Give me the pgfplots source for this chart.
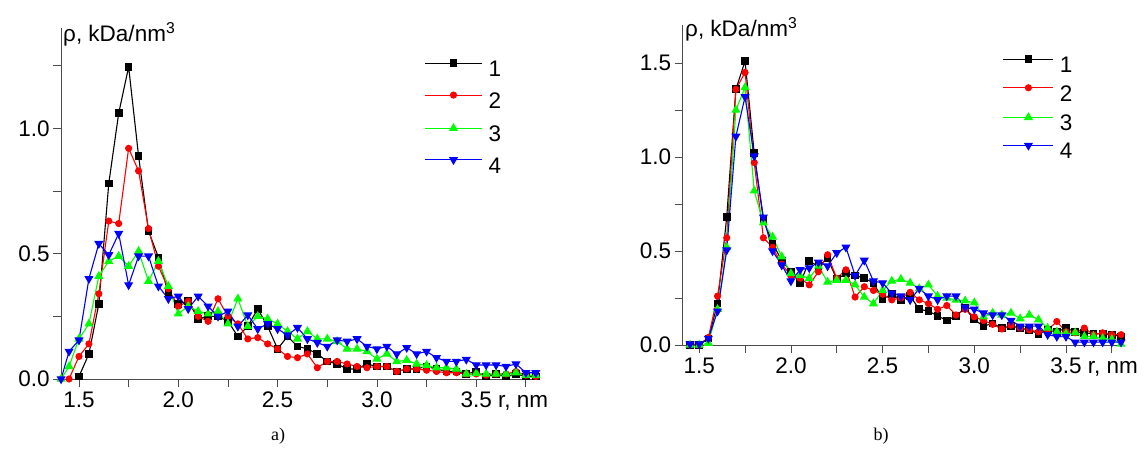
\documentclass[border=0pt]{standalone}
\usepackage{fontspec}
\setmainfont{Liberation Sans}
\newfontfamily\seriffont{Liberation Serif}
\usepackage{pgfplots}
\pgfplotsset{compat=1.18}
\newcommand{\tlf}{\fontsize{22.5bp}{26bp}\selectfont}
\pgfplotsset{
  panel/.style={
    scale only axis,
    anchor=south west,
    axis lines=left,
    axis line style={-, black!70, line width=0.8bp},
    every tick/.style={black!70, line width=0.8bp},
    tick align=outside,
    major tick length=8bp,
    minor tick length=8bp,
    xmin=1.41, xmax=3.80, ymin=0,
    xtick={1.5,2.0,2.5,3.0,3.5},
    xticklabels={1.5,2.0,2.5,3.0,3.5\rlap{ r, nm}},
    minor xtick={1.75,2.25,2.75,3.25,3.75},
    ticklabel style={font=\tlf},
    xticklabel style={yshift=-1bp},
    clip=false,
    legend cell align=left,
    legend style={draw=none, fill=none, font=\tlf, inner sep=0pt,
      nodes={inner sep=0pt, text height=16bp, text depth=0bp}},
    every axis plot/.append style={line width=1.1bp},
  },
}
\begin{document}
\begin{tikzpicture}
\path[use as bounding box] (0,0) rectangle (1145bp,468bp);
% ---------------- panel a ----------------
\begin{axis}[panel,
  at={(61.1bp,89bp)},
  width=474.7bp, height=351bp,
  ymax=1.4,
  ytick={0,0.5,1.0}, yticklabels={0.0,0.5,1.0},
  minor ytick={0.25,0.75,1.25},
  legend style={at={(0.765,0.91)}, anchor=north west, row sep=15.5bp},
  legend image code/.code={
    \draw[mark repeat=2, mark phase=2, #1] plot coordinates {(0bp,5.5bp) (28.5bp,5.5bp) (57bp,5.5bp)};
  },
  /tikz/every odd column/.append style={column sep=6bp},
]
\addplot[color=black, mark=square*, mark size=3.3bp, mark options={solid}] table {
1.50 0.01
1.55 0.10
1.60 0.30
1.65 0.78
1.70 1.06
1.75 1.245
1.80 0.89
1.85 0.59
1.90 0.485
1.95 0.34
2.00 0.30
2.05 0.31
2.10 0.24
2.15 0.25
2.20 0.25
2.25 0.23
2.30 0.17
2.35 0.21
2.40 0.28
2.45 0.21
2.50 0.12
2.55 0.17
2.60 0.13
2.65 0.12
2.70 0.10
2.75 0.07
2.80 0.06
2.85 0.04
2.90 0.04
2.95 0.06
3.00 0.05
3.05 0.05
3.10 0.03
3.15 0.04
3.20 0.04
3.25 0.05
3.30 0.04
3.35 0.03
3.40 0.03
3.45 0.02
3.50 0.03
3.55 0.01
3.60 0.02
3.65 0.01
3.70 0.02
3.75 0.01
3.80 0.01
};
\addlegendentry{1}
\addplot[color=red, mark=*, mark size=3bp, mark options={solid}] table {
1.45 0.00
1.50 0.09
1.55 0.14
1.60 0.34
1.65 0.63
1.70 0.62
1.75 0.92
1.80 0.83
1.85 0.60
1.90 0.45
1.95 0.36
2.00 0.29
2.05 0.31
2.10 0.25
2.15 0.23
2.20 0.32
2.25 0.25
2.30 0.22
2.35 0.16
2.40 0.165
2.45 0.14
2.50 0.12
2.55 0.09
2.60 0.085
2.65 0.10
2.70 0.045
2.75 0.07
2.80 0.07
2.85 0.06
2.90 0.05
2.95 0.045
3.00 0.05
3.05 0.05
3.10 0.03
3.15 0.04
3.20 0.04
3.25 0.035
3.30 0.03
3.35 0.025
3.40 0.025
3.45 0.02
3.50 0.02
3.55 0.015
3.60 0.02
3.65 0.02
3.70 0.03
3.75 0.015
3.80 0.01
};
\addlegendentry{2}
\addplot[color=green, mark=triangle*, mark size=4.2bp, mark options={solid}] table {
1.41 0.00
1.45 0.05
1.50 0.16
1.55 0.22
1.60 0.41
1.65 0.47
1.70 0.49
1.75 0.45
1.80 0.51
1.85 0.39
1.90 0.47
1.95 0.37
2.00 0.26
2.05 0.29
2.10 0.27
2.15 0.26
2.20 0.27
2.25 0.22
2.30 0.32
2.35 0.21
2.40 0.25
2.45 0.24
2.50 0.22
2.55 0.19
2.60 0.16
2.65 0.19
2.70 0.16
2.75 0.16
2.80 0.15
2.85 0.12
2.90 0.12
2.95 0.11
3.00 0.08
3.05 0.10
3.10 0.07
3.15 0.075
3.20 0.06
3.25 0.055
3.30 0.045
3.35 0.045
3.40 0.04
3.45 0.02
3.50 0.022
3.55 0.02
3.60 0.02
3.65 0.02
3.70 0.025
3.75 0.015
3.80 0.015
};
\addlegendentry{3}
\addplot[color=blue, mark=triangle*, mark size=4.2bp, mark options={solid, rotate=180}] table {
1.41 0.00
1.45 0.11
1.50 0.155
1.55 0.40
1.60 0.54
1.65 0.495
1.70 0.58
1.75 0.375
1.80 0.49
1.85 0.49
1.90 0.37
1.95 0.32
2.00 0.33
2.05 0.28
2.10 0.33
2.15 0.29
2.20 0.25
2.25 0.27
2.30 0.21
2.35 0.255
2.40 0.20
2.45 0.22
2.50 0.20
2.55 0.175
2.60 0.205
2.65 0.16
2.70 0.145
2.75 0.13
2.80 0.155
2.85 0.15
2.90 0.16
2.95 0.13
3.00 0.12
3.05 0.13
3.10 0.10
3.15 0.125
3.20 0.10
3.25 0.11
3.30 0.085
3.35 0.07
3.40 0.07
3.45 0.078
3.50 0.056
3.55 0.056
3.60 0.056
3.65 0.05
3.70 0.06
3.75 0.025
3.80 0.025
};
\addlegendentry{4}
\end{axis}
% ---------------- panel b ----------------
\begin{axis}[panel,
  at={(682.7bp,123bp)},
  width=438.3bp, height=319.6bp,
  ymax=1.7,
  ytick={0,0.5,1.0,1.5}, yticklabels={0.0,0.5,1.0,1.5},
  minor ytick={0.25,0.75,1.25},
  legend style={at={(0.73,0.905)}, anchor=north west, row sep=12bp},
  legend image code/.code={
    \draw[mark repeat=2, mark phase=2, #1] plot coordinates {(0bp,5.5bp) (25bp,5.5bp) (50bp,5.5bp)};
  },
  /tikz/every odd column/.append style={column sep=6bp},
]
\addplot[color=black, mark=square*, mark size=3.3bp, mark options={solid}] table {
1.45 0.00
1.50 0.00
1.55 0.035
1.60 0.22
1.65 0.68
1.70 1.36
1.75 1.51
1.80 1.02
1.85 0.665
1.90 0.54
1.95 0.45
2.00 0.39
2.05 0.33
2.10 0.445
2.15 0.42
2.20 0.46
2.25 0.35
2.30 0.38
2.35 0.37
2.40 0.355
2.45 0.33
2.50 0.245
2.55 0.27
2.60 0.24
2.65 0.26
2.70 0.19
2.75 0.18
2.80 0.155
2.85 0.13
2.90 0.155
2.95 0.195
3.00 0.135
3.05 0.10
3.10 0.115
3.15 0.09
3.20 0.10
3.25 0.09
3.30 0.08
3.35 0.06
3.40 0.08
3.45 0.07
3.50 0.09
3.55 0.07
3.60 0.065
3.65 0.06
3.70 0.06
3.75 0.055
3.80 0.045
};
\addlegendentry{1}
\addplot[color=red, mark=*, mark size=3bp, mark options={solid}] table {
1.45 0.00
1.50 0.00
1.55 0.04
1.60 0.26
1.65 0.57
1.70 1.36
1.75 1.45
1.80 0.97
1.85 0.57
1.90 0.52
1.95 0.43
2.00 0.37
2.05 0.355
2.10 0.32
2.15 0.39
2.20 0.48
2.25 0.355
2.30 0.40
2.35 0.255
2.40 0.31
2.45 0.29
2.50 0.27
2.55 0.24
2.60 0.25
2.65 0.28
2.70 0.24
2.75 0.22
2.80 0.19
2.85 0.21
2.90 0.16
2.95 0.19
3.00 0.15
3.05 0.13
3.10 0.11
3.15 0.085
3.20 0.105
3.25 0.09
3.30 0.08
3.35 0.07
3.40 0.08
3.45 0.125
3.50 0.07
3.55 0.065
3.60 0.09
3.65 0.055
3.70 0.065
3.75 0.055
3.80 0.055
};
\addlegendentry{2}
\addplot[color=green, mark=triangle*, mark size=4.2bp, mark options={solid}] table {
1.45 0.00
1.50 0.00
1.55 0.01
1.60 0.19
1.65 0.52
1.70 1.25
1.75 1.37
1.80 0.82
1.85 0.65
1.90 0.575
1.95 0.47
2.00 0.38
2.05 0.37
2.10 0.355
2.15 0.42
2.20 0.335
2.25 0.345
2.30 0.345
2.35 0.32
2.40 0.255
2.45 0.22
2.50 0.29
2.55 0.34
2.60 0.35
2.65 0.33
2.70 0.30
2.75 0.32
2.80 0.26
2.85 0.25
2.90 0.24
2.95 0.235
3.00 0.225
3.05 0.15
3.10 0.17
3.15 0.16
3.20 0.17
3.25 0.14
3.30 0.16
3.35 0.135
3.40 0.09
3.45 0.07
3.50 0.06
3.55 0.065
3.60 0.045
3.65 0.045
3.70 0.035
3.75 0.03
3.80 0.005
};
\addlegendentry{3}
\addplot[color=blue, mark=triangle*, mark size=4.2bp, mark options={solid, rotate=180}] table {
1.45 0.005
1.50 0.005
1.55 0.035
1.60 0.18
1.65 0.505
1.70 1.11
1.75 1.32
1.80 1.005
1.85 0.68
1.90 0.50
1.95 0.425
2.00 0.34
2.05 0.40
2.10 0.41
2.15 0.44
2.20 0.42
2.25 0.49
2.30 0.52
2.35 0.37
2.40 0.45
2.45 0.34
2.50 0.33
2.55 0.275
2.60 0.26
2.65 0.24
2.70 0.30
2.75 0.26
2.80 0.24
2.85 0.26
2.90 0.26
2.95 0.20
3.00 0.19
3.05 0.17
3.10 0.16
3.15 0.16
3.20 0.13
3.25 0.10
3.30 0.10
3.35 0.10
3.40 0.055
3.45 0.045
3.50 0.045
3.55 0.015
3.60 0.015
3.65 0.015
3.70 0.015
3.75 0.015
3.80 0.015
};
\addlegendentry{4}
\end{axis}
% ---------------- labels ----------------
\node[anchor=base west, inner sep=0pt, font=\tlf] at (63bp,426.5bp) {ρ, kDa/nm\textsuperscript{3}};
\node[anchor=base west, inner sep=0pt, font=\tlf] at (685bp,431.5bp) {ρ, kDa/nm\textsuperscript{3}};
\node[font=\seriffont\fontsize{18bp}{22bp}\selectfont] at (278bp,32bp) {a)};
\node[font=\seriffont\fontsize{18bp}{22bp}\selectfont] at (881bp,32bp) {b)};
\end{tikzpicture}
\end{document}
